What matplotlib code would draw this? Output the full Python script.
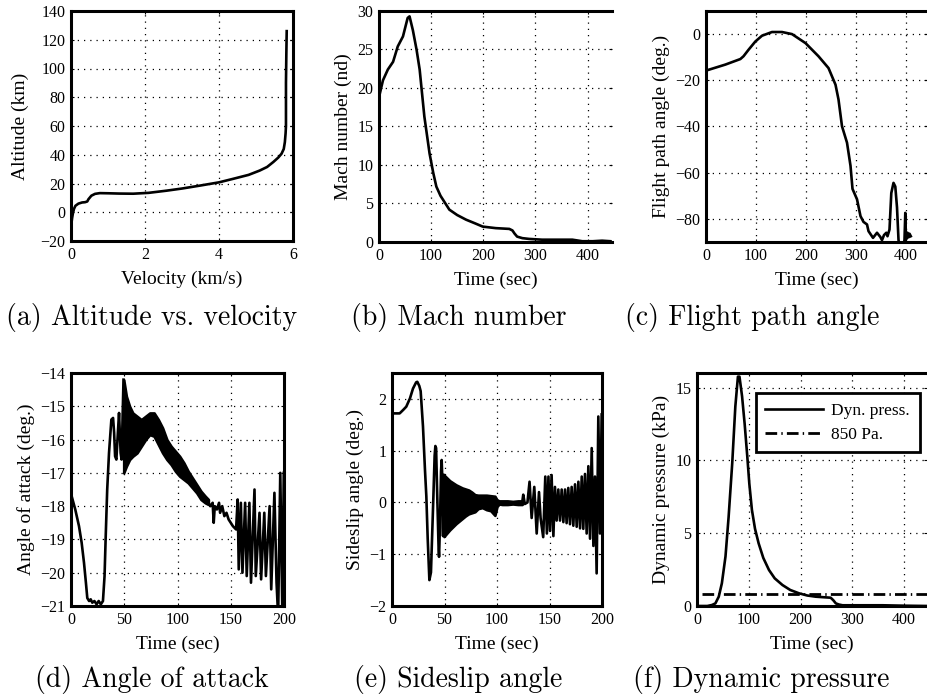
import numpy as np
import matplotlib
matplotlib.use("Agg")
import matplotlib.pyplot as plt

plt.rcParams['font.family'] = ['Liberation Serif', 'DejaVu Serif']
plt.rcParams['axes.unicode_minus'] = True

# (a) altitude vs velocity
vel_a = [0.02, 0.03, 0.05, 0.08, 0.12, 0.2, 0.3, 0.38, 0.44, 0.47, 0.55, 0.65, 0.78, 1.0, 1.3,
         1.68, 2.1, 2.58, 3.0, 3.5, 4.0, 4.39, 4.8, 5.1, 5.3, 5.47, 5.6, 5.69, 5.75, 5.78, 5.8,
         5.81, 5.81, 5.82, 5.83]
alt_a = [-6, -4, -1, 2.3, 4.5, 6, 6.8, 7, 7.5, 9, 11.5, 12.8, 13.3, 13.2, 13,
         12.9, 13.5, 15, 16.5, 18.6, 20.8, 23.3, 26, 29, 31.5, 35, 38, 40.7, 44, 48.8, 55,
         60, 90, 110, 126]

# (b) mach number
t_b = [0, 1, 7.6, 17, 27, 36, 46, 55, 58.6, 65, 72, 78, 87, 97, 104, 110, 118, 135, 150, 167,
       185, 199, 224, 250, 256, 260, 265, 275, 288, 313, 340, 371, 390, 410, 428, 444]
mach_b = [18.5, 19.1, 21, 22.4, 23.4, 25.4, 26.7, 29.1, 29.3, 27.5, 25, 22.4, 16.3, 11.5, 9, 7.2,
          6, 4.2, 3.5, 2.9, 2.4, 2.0, 1.8, 1.7, 1.5, 1.1, 0.7, 0.5, 0.4, 0.3, 0.3, 0.3, 0.1, 0.1,
          0.17, 0.1]

# (c) flight path angle
t_c = [0, 38.7, 68.7, 75, 85, 98.7, 112, 132, 152, 172, 199, 225, 245, 259, 265, 272, 282, 289,
       293, 302, 309, 315, 322, 325, 334, 342, 348.6, 352, 356, 360.6, 363, 367, 370.6, 375,
       378.6, 382, 385, 388, 394, 397, 398.6, 400, 403, 405, 407, 409.6]
gam_c = [-15.8, -13.2, -10.8, -9.6, -6.8, -3.2, -0.7, 0.9, 0.9, 0, -3.9, -9.6, -14.7, -21.9,
         -28.3, -39.9, -47, -57, -67, -71.5, -78.8, -81.3, -82.4, -85.3, -88.2, -86, -87.8,
         -89.2, -87, -86, -87.5, -84.6, -68.8, -64.4, -66, -75, -89, -95, -95, -89, -77.4, -89,
         -86, -88, -86.4, -87.5]

# (d) angle of attack
t_d1 = [0, 0.6, 4, 7.5, 10, 12.2, 14, 15.3, 17, 18.5, 20, 22, 24, 26, 28, 30, 31.5, 32.6, 34,
        35.7, 37.9, 39.5, 40.5, 41.4, 42.6, 44, 45.1, 46.6, 47.5, 49.3]
aoa_d1 = [-17.6, -17.7, -18.1, -18.6, -19.1, -19.7, -20.3, -20.76, -20.85, -20.8, -20.9, -20.85,
          -20.95, -20.85, -20.95, -20.85, -20.1, -18.9, -17.5, -16.4, -15.4, -15.35, -15.8,
          -16.5, -16.6, -15.8, -15.2, -16.4, -16.6, -14.2]
t_dband = [49.5, 52, 55, 58, 62, 66, 70, 74, 78, 82, 86, 90, 94, 98, 102, 106, 110, 114, 118,
           122, 126, 129]
aoa_dhi = [-14.2, -14.7, -15.0, -15.2, -15.3, -15.4, -15.3, -15.2, -15.2, -15.4, -15.65, -16.0,
           -16.2, -16.35, -16.5, -16.7, -16.95, -17.15, -17.35, -17.55, -17.7, -17.8]
aoa_dlo = [-17.0, -16.8, -16.6, -16.5, -16.4, -16.2, -16.0, -15.85, -15.9, -16.15, -16.4, -16.6,
           -16.75, -16.95, -17.1, -17.2, -17.3, -17.45, -17.6, -17.8, -17.9, -17.95]
t_d2 = [129, 131, 133, 134, 135, 137, 139, 140, 142, 144, 146, 148, 150, 152, 155, 156.5, 157.5,
        159.5, 161, 163.5, 165, 167.5, 169, 172.3, 173.5, 177, 178.5, 181.5, 183, 186.5, 188,
        191, 193, 194.5, 196.5, 198.5, 199.8]
aoa_d2 = [-17.9, -18.0, -17.9, -18.5, -18.0, -18.1, -17.9, -18.2, -18.0, -18.3, -18.2, -18.4,
          -18.5, -18.6, -18.7, -17.8, -19.9, -17.9, -20.0, -17.9, -20.1, -17.9, -20.3, -17.5,
          -20.1, -18.2, -20.2, -18.2, -20.1, -18.0, -20.5, -17.6, -20.3, -21.3, -17.0, -21.3,
          -17.0]

# (e) sideslip angle
t_e1 = [0, 1.3, 7.3, 10.8, 13.6, 17.1, 20, 23, 24.1, 26, 27.3, 29.5, 31.4, 32.7, 34, 35.6, 37.1,
        38.4, 39.4, 40.6, 41.3, 42, 43, 44.4, 44.8, 45.6, 46.7, 47.3, 48, 48.6, 49.5]
beta_e1 = [1.72, 1.72, 1.72, 1.79, 1.85, 2.01, 2.2, 2.32, 2.33, 2.25, 2.15, 1.47, 0.63, 0.12,
           -0.7, -1.5, -1.35, -0.53, 0.1, 0.9, 1.09, 1.05, 0.2, -0.9, -1.05, -0.5, 0.6, 0.82,
           0.4, -0.65, 0.53]
t_eband = [49.5, 52, 55, 58, 61, 64, 67, 70, 73, 76, 79, 82, 86, 90, 94, 98, 100, 102, 105, 110,
           115, 120, 124]
beta_ehi = [0.53, 0.48, 0.42, 0.38, 0.34, 0.31, 0.28, 0.26, 0.24, 0.2, 0.15, 0.14, 0.14, 0.14,
            0.13, 0.12, 0.05, 0.03, 0.03, 0.03, 0.02, 0.03, 0.03]
beta_elo = [-0.66, -0.6, -0.53, -0.47, -0.41, -0.36, -0.31, -0.26, -0.22, -0.2, -0.18, -0.12,
            -0.1, -0.14, -0.16, -0.25, -0.08, -0.03, -0.04, -0.04, -0.03, -0.04, -0.04]
t_e2 = [124, 125, 126.5, 129, 131, 133, 135.5, 137.8, 140, 141.5, 144, 146, 147.5, 149, 150.5,
        152, 153.7, 155.2, 156.8, 158.4, 160, 161.6, 163.2, 164.8, 166.3, 167.9, 169.5, 171.1,
        172.7, 174.3, 175.9, 177.5, 179.1, 180.7, 182.2, 183.8, 185.4, 187, 188.6, 190.2, 191.8,
        193.3, 194.9, 196.5, 198.1, 199.7]
beta_e2 = [0.0, 0.15, -0.03, 0.0, 0.4, -0.3, 0.3, -0.6, 0.2, -0.3, -0.67, 0.5, -0.6, 0.5, -0.55,
           0.53, -0.65, 0.3, -0.35, 0.25, -0.35, 0.25, -0.38, 0.25, -0.4, 0.28, -0.42, 0.3,
           -0.45, 0.35, -0.47, 0.4, -0.5, 0.5, -0.51, 0.55, -0.6, 0.7, -0.7, 1.05, -0.84, 0.5,
           -1.37, 1.66, -0.6, 1.7]

# (f) dynamic pressure
t_f = [0, 20, 29, 35.5, 42, 48, 55, 61, 68, 74, 79, 82, 87, 92, 97, 101, 106, 112, 119, 128, 139,
       150, 165, 180, 197, 213, 229, 245, 258, 263, 268, 274, 281, 300, 330, 358, 400, 445]
q_f = [0, 0, 0.07, 0.18, 0.64, 1.56, 3.4, 6.1, 9.8, 13.7, 15.75, 15.75, 14.4, 12.5, 10.3, 8.4,
       6.6, 5.3, 4.3, 3.3, 2.47, 1.9, 1.44, 1.1, 0.87, 0.72, 0.64, 0.6, 0.57, 0.4, 0.18, 0.1,
       0.05, 0.05, 0.05, 0.05, 0.02, 0.0]
t_lim = [10, 445]
q_lim = [0.85, 0.85]

captions = ['(a) Altitude vs. velocity', '(b) Mach number', '(c) Flight path angle',
            '(d) Angle of attack', '(e) Sideslip angle', '(f) Dynamic pressure']

W, H = 927, 700
fig = plt.figure(figsize=(W / 100, H / 100), dpi=100)


def box(l, r, t, b):
    return [l / W, 1 - b / H, (r - l) / W, (b - t) / H]


def style(ax, xlim, ylim, xticks, yticks, xlabel, ylabel, right=True, ypad=4):
    ax.set_xlim(*xlim)
    ax.set_ylim(*ylim)
    ax.set_xticks(xticks)
    ax.set_yticks(yticks)
    ax.grid(True, linestyle=(0, (1, 4)), color='k', linewidth=0.9)
    ax.tick_params(direction='in', length=2, width=0.8, labelsize=11.5, pad=4,
                   top=True, right=True)
    for s in ax.spines.values():
        s.set_linewidth(2.2)
    if not right:
        ax.spines['right'].set_visible(False)
    ax.set_xlabel(xlabel, fontsize=14, labelpad=6)
    ax.set_ylabel(ylabel, fontsize=14, labelpad=ypad)


LW = 1.9

ax = fig.add_axes(box(71, 293, 11, 241))
ax.plot(vel_a, alt_a, color='k', lw=LW)
style(ax, (0, 6), (-20, 140), [0, 2, 4, 6], range(-20, 141, 20), 'Velocity (km/s)',
      'Altitude (km)', ypad=8)

ax = fig.add_axes(box(379, 612, 11, 242))
ax.plot(t_b, mach_b, color='k', lw=LW)
style(ax, (0, 447), (0, 30), [0, 100, 200, 300, 400], range(0, 31, 5), 'Time (sec)',
      'Mach number (nd)', right=False)

ax = fig.add_axes(box(706, 927, 11, 242))
ax.plot(t_c, gam_c, color='k', lw=LW)
style(ax, (0, 442), (-90, 10), [0, 100, 200, 300, 400], range(-80, 1, 20), 'Time (sec)',
      'Flight path angle (deg.)', right=False)

ax = fig.add_axes(box(71, 284, 373, 606))
ax.plot(t_d1, aoa_d1, color='k', lw=LW)
ax.fill_between(t_dband, aoa_dlo, aoa_dhi, color='k', lw=LW)
ax.plot(t_d2, aoa_d2, color='k', lw=LW)
style(ax, (0, 200), (-21, -14), range(0, 201, 50), range(-21, -13), 'Time (sec)',
      'Angle of attack (deg.)')

ax = fig.add_axes(box(392, 602, 373, 606))
ax.plot(t_e1, beta_e1, color='k', lw=LW)
ax.fill_between(t_eband, beta_elo, beta_ehi, color='k', lw=LW)
ax.plot(t_e2, beta_e2, color='k', lw=LW)
style(ax, (0, 200), (-2, 2.5), range(0, 201, 50), range(-2, 3), 'Time (sec)',
      'Sideslip angle (deg.)')

ax = fig.add_axes(box(697, 927, 373, 606))
ax.plot(t_f, q_f, color='k', lw=LW, label='Dyn. press.')
ax.plot(t_lim, q_lim, color='k', lw=2.0, linestyle=(0, (4.2, 1.5, 0.5, 1.5)), label='850 Pa.')
style(ax, (0, 444), (0, 16), [0, 100, 200, 300, 400], [0, 5, 10, 15], 'Time (sec)',
      'Dynamic pressure (kPa)', right=False)
leg = ax.legend(loc='upper left', bbox_to_anchor=(0.256, 0.914), borderaxespad=0,
                fontsize=12.5, fancybox=False, framealpha=1, edgecolor='k',
                handlelength=3.3, borderpad=0.55, labelspacing=0.45, handletextpad=0.5)
leg.get_frame().set_linewidth(2.0)

cap_x = [152, 459, 752, 152, 458, 761]
cap_y = [318, 318, 318, 680, 680, 680]
for txt, x, y in zip(captions, cap_x, cap_y):
    fig.text(x / W, 1 - y / H, txt, family='cmr10', fontsize=20, ha='center', va='center')

fig.savefig('out.png', dpi=100)
